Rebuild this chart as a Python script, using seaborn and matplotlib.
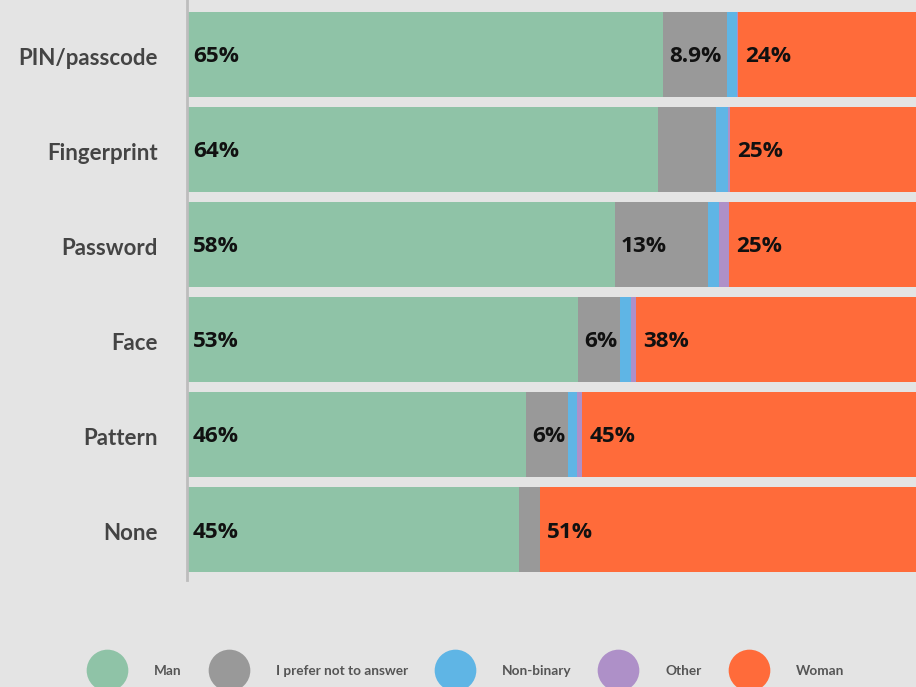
import matplotlib
matplotlib.use("Agg")
import matplotlib.pyplot as plt
from matplotlib.lines import Line2D
from matplotlib.transforms import ScaledTranslation
import seaborn as sns
import numpy as np
import pandas as pd

categories = ["PIN/passcode", "Fingerprint", "Password", "Face", "Pattern", "None"]
man = [64.5, 63.8, 58.0, 53.0, 46.0, 45.0]
prefer_not = [8.7, 7.9, 12.6, 5.7, 5.7, 2.8]
non_binary = [1.3, 1.6, 1.5, 1.5, 1.2, 0.0]
other = [0.2, 0.3, 1.3, 0.6, 0.7, 0.0]
woman = [25.3, 26.4, 26.6, 39.2, 46.4, 52.2]

man_labels = ["65%", "64%", "58%", "53%", "46%", "45%"]
prefer_labels = ["8.9%", "", "13%", "6%", "6%", ""]
woman_labels = ["24%", "25%", "25%", "38%", "45%", "51%"]

series_names = ["Man", "I prefer not to answer", "Non-binary", "Other", "Woman"]
colors = ["#8fc3a7", "#999999", "#5fb5e5", "#ae90c8", "#ff6b3a"]

BG = "#e4e4e4"
sns.set_theme(style="white")
plt.rcParams["font.family"] = ["Lato", "DejaVu Sans"]

W, H = 916, 687
fig = plt.figure(figsize=(W / 100, H / 100), dpi=100, facecolor=BG)
ax = fig.add_axes([187 / W, 1 - 580 / H, (W - 187) / W, 580 / H])
ax.set_facecolor(BG)

df = pd.DataFrame({"category": categories, "Man": man, "I prefer not to answer": prefer_not,
                   "Non-binary": non_binary, "Other": other, "Woman": woman})
cum = df[series_names].cumsum(axis=1)

# draw from the full total down so each layer covers the previous
for name, col in reversed(list(zip(series_names, colors))):
    sns.barplot(x=cum[name], y=df["category"], orient="h", color=col,
                width=0.895, ax=ax, saturation=1, edgecolor="none", linewidth=0)

ax.set_xlim(0, 98.8)
ax.set_ylim(5.53, -0.574)
ax.set_xlabel("")
ax.set_ylabel("")
ax.set_xticks([])
for s in ["top", "right", "bottom"]:
    ax.spines[s].set_visible(False)
ax.spines["left"].set_color("#bdbdbd")
ax.spines["left"].set_linewidth(2)
ax.tick_params(axis="y", length=0, pad=21)
shift = ScaledTranslation(0, -2 / 100, fig.dpi_scale_trans)
for t in ax.get_yticklabels():
    t.set_fontsize(16)
    t.set_fontweight("bold")
    t.set_color("#444444")
    t.set_fontfamily(["Lato", "DejaVu Sans"])
    t.set_transform(t.get_transform() + shift)

off = 0.8
dy = 0.025
lab_kw = dict(va="center", ha="left", fontsize=16.2, fontweight="bold", color="#111111",
              family=["Open Sans", "DejaVu Sans"])
for i in range(len(categories)):
    ax.text(off, i + dy, man_labels[i], **lab_kw)
    if prefer_labels[i]:
        ax.text(man[i] + off, i + dy, prefer_labels[i], **lab_kw)
    ax.text(cum["Other"][i] + off + 0.2, i + dy, woman_labels[i], **lab_kw)

handles = [Line2D([], [], marker="o", linestyle="none", markersize=30,
                  markerfacecolor=c, markeredgecolor="none") for c in colors]
leg = fig.legend(handles, series_names, loc="center", bbox_to_anchor=(0.508, 16 / H),
                 ncol=5, frameon=False, handletextpad=1.95, columnspacing=1.95,
                 handlelength=3.0, borderpad=0, borderaxespad=0,
                 prop={"family": "Lato", "size": 9.8, "weight": "bold"})
for t in leg.get_texts():
    t.set_color("#555555")

fig.savefig("out.png", dpi=100, facecolor=BG)
